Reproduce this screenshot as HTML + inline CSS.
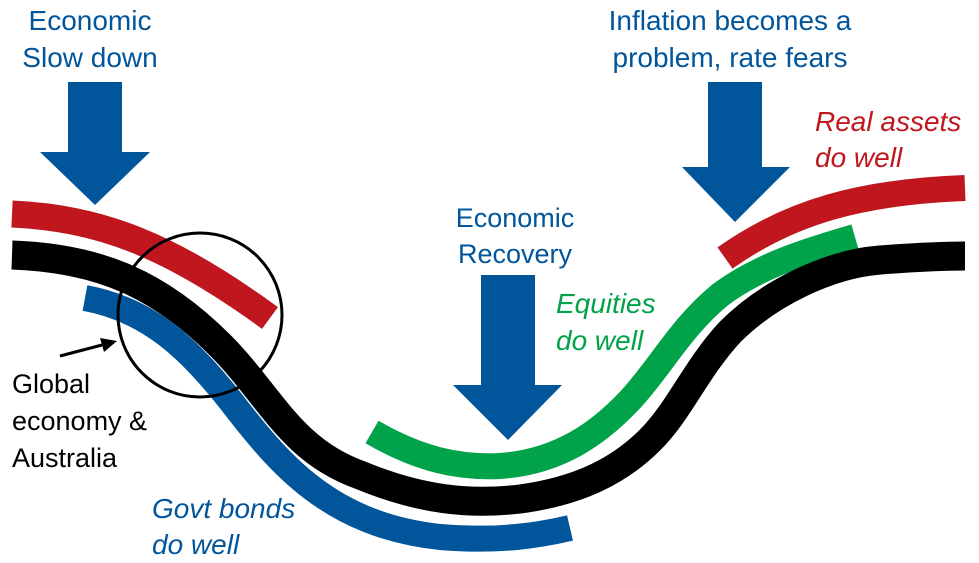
<!DOCTYPE html>
<html><head><style>
body{margin:0;background:#fff;}
svg{display:block;}
text{font-family:"Liberation Sans",sans-serif;}
</style></head><body>
<svg width="979" height="563" viewBox="0 0 979 563" xmlns="http://www.w3.org/2000/svg">
<g fill="none" stroke-linecap="butt">
<path d="M12,214 C100,218 170,245 270,318" stroke="#c0171f" stroke-width="27"/>
<path d="M725,258 C790,212 860,192 965,188" stroke="#c0171f" stroke-width="26"/>
<path d="M85,298 C150,310 190,350 230,400 C280,465 330,525 440,537 C500,542 540,535 570,528" stroke="#00559b" stroke-width="26"/>
<path d="M372,432 C420,460 460,468 500,466 C560,462 600,432 630,400 C660,368 680,328 720,295 C760,265 810,250 855,237" stroke="#00a34a" stroke-width="26"/>
<path d="M12,255 C100,258 160,285 220,345 C270,395 290,450 360,475 C420,500 470,505 520,499 C580,491 620,470 650,440 C680,410 695,370 730,332 C770,292 830,264 880,260 C920,257 945,256 965,256" stroke="#000" stroke-width="29"/>
<circle cx="200" cy="315" r="82" stroke="#000" stroke-width="3"/>
</g>
<line x1="60" y1="356" x2="102" y2="345" stroke="#000" stroke-width="3"/>
<polygon points="117,341 100,338 104,352" fill="#000"/>
<g fill="#00559b">
<polygon points="68,82 122,82 122,152 150,152 95,205 40,152 68,152"/>
<polygon points="481,275 535,275 535,385 562,385 508,440 453,385 481,385"/>
<polygon points="708,82 762,82 762,167 790,167 735,222 682,167 708,167"/>
</g>
<g font-size="28" fill="#00559b" text-anchor="middle">
<text x="90" y="30">Economic</text><text x="90" y="67">Slow down</text>
<text x="730" y="30">Inflation becomes a</text><text x="730" y="67">problem, rate fears</text>
</g>
<g font-size="27" fill="#00559b" text-anchor="middle">
<text x="515" y="227">Economic</text><text x="515" y="263">Recovery</text>
</g>
<g font-size="28" font-style="italic">
<text x="815" y="131" fill="#c0171f">Real assets</text><text x="815" y="167" fill="#c0171f">do well</text>
<text x="556" y="313" fill="#00a34a">Equities</text><text x="556" y="350" fill="#00a34a">do well</text>
<text x="152" y="518" fill="#00559b">Govt bonds</text><text x="152" y="554" fill="#00559b">do well</text>
</g>
<g font-size="27" fill="#000">
<text x="12" y="393">Global</text><text x="12" y="430">economy &amp;</text><text x="12" y="467">Australia</text>
</g>
</svg>
</body></html>
